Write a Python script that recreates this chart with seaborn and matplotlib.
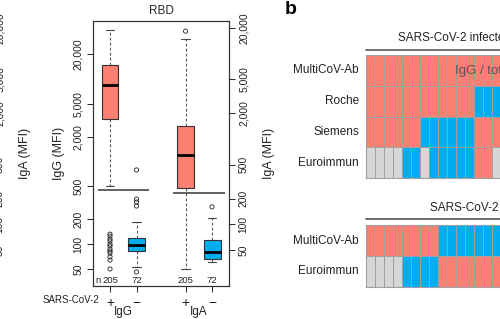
import numpy as np
import pandas as pd
import matplotlib
matplotlib.use("Agg")
import matplotlib.pyplot as plt
import matplotlib.transforms as mtransforms
import seaborn as sns
from matplotlib.colors import ListedColormap
from matplotlib.ticker import FixedLocator, FixedFormatter, NullLocator
from matplotlib.lines import Line2D

# ---------------- data ----------------
positions = [1.0, 2.0, 3.85, 4.85]
status = ["+", "\u2212", "+", "\u2212"]
counts = [205, 72, 205, 72]
group_names = ["IgG", "IgA"]

# five-number summaries: lower whisker, Q1, median, Q3, upper whisker
igg_pos_stats = [505, 3270, 8430, 14700, 39000]
igg_neg_stats = [53, 82, 98, 118, 185]
iga_pos_stats = [30, 266, 649, 1420, 14900]
iga_neg_stats = [36, 39, 47, 65, 119]

igg_pos_out = [132, 125, 115, 109, 100, 95, 87, 82, 78, 70, 64, 50]
igg_neg_out = [790, 351, 323, 289, 46]
iga_pos_out = [18400]
iga_neg_out = [160]

igg_cutoff = 451
iga_cutoff = 233

tick_values = [50, 100, 200, 500, 2000, 5000, 20000]
tick_labels = ["50", "100", "200", "500", "2,000", "5,000", "20,000"]

top_rows = ["MultiCoV-Ab", "Roche", "Siemens", "Euroimmun"]
top_multicov = [2, 2, 2, 2, 2, 2, 2, 2, 2, 2, 2, 2, 2, 2, 2]
top_roche = [2, 2, 2, 2, 2, 2, 2, 2, 2, 2, 2, 2, 1, 1, 1]
top_siemens = [2, 2, 2, 2, 2, 2, 1, 1, 1, 1, 1, 1, 2, 2, 2]
top_euroimmun = [0, 0, 0, 0, 1, 1, 0, 1, 1, 1, 1, 1, 2, 2, 0]

bot_rows = ["MultiCoV-Ab", "Euroimmun"]
bot_multicov = [2, 2, 2, 2, 2, 2, 2, 2, 1, 1, 1, 1, 1, 1, 1]
bot_euroimmun = [0, 0, 0, 0, 1, 1, 1, 1, 2, 2, 2, 2, 2, 2, 2]

RED = "#FA8072"
BLUE = "#00AEEF"
GRAY = "#D6D6D6"
GRID = "#A0A0A0"

# ---------------- style ----------------
sns.set_style("white")
plt.rcParams["font.family"] = ["Liberation Sans", "DejaVu Sans"]

W, H = 500, 319
fig = plt.figure(figsize=(5.0, 3.19), dpi=100)


def fx(px):
    return px / W


def fy(py):
    return 1 - py / H


TICK_FS = 7.4

# ---------------- boxplot panel ----------------
ax = fig.add_axes([fx(93), fy(286), fx(229) - fx(93), fy(21) - fy(286)])
ax2 = ax.twinx()

df_g = pd.DataFrame({
    "pos": np.repeat(positions[:2], 5),
    "val": igg_pos_stats + igg_neg_stats,
    "status": np.repeat(status[:2], 5),
})
df_a = pd.DataFrame({
    "pos": np.repeat(positions[2:], 5),
    "val": iga_pos_stats + iga_neg_stats,
    "status": np.repeat(status[2:], 5),
})
pal = {"+": RED, "\u2212": BLUE}
box_kw = dict(x="pos", y="val", hue="status", palette=pal, native_scale=True,
              dodge=False, whis=(0, 100), width=0.64, fliersize=0,
              linecolor="#333333", linewidth=0.8, log_scale=(False, True),
              legend=False, saturation=1,
              whiskerprops=dict(linestyle=(0, (2.5, 2)), color="#555555",
                                linewidth=0.8),
              capprops=dict(color="#444444"),
              medianprops=dict(color="black", linewidth=2.0))
sns.boxplot(data=df_g, ax=ax, **box_kw)
sns.boxplot(data=df_a, ax=ax2, **box_kw)

out_g = pd.DataFrame({
    "pos": [positions[0]] * len(igg_pos_out) + [positions[1]] * len(igg_neg_out),
    "val": igg_pos_out + igg_neg_out,
})
out_a = pd.DataFrame({
    "pos": [positions[2]] * len(iga_pos_out) + [positions[3]] * len(iga_neg_out),
    "val": iga_pos_out + iga_neg_out,
})
sc_kw = dict(x="pos", y="val", marker="o", s=9, facecolors="none",
             edgecolor="#222222", linewidth=0.6)
sns.scatterplot(data=out_g, ax=ax, **sc_kw)
sns.scatterplot(data=out_a, ax=ax2, **sc_kw)

ax.hlines(igg_cutoff, 0.55, 2.47, color="#555555", lw=1.3)
ax2.hlines(iga_cutoff, 3.38, 5.34, color="#555555", lw=1.3)

ax.set_yscale("log")
ax2.set_yscale("log")
ax.set_ylim(31.1, 50200)
ax2.set_ylim(18.9, 24200)
ax.set_xlim(0.358, 5.49)

for a in (ax, ax2):
    a.yaxis.set_major_locator(FixedLocator(tick_values))
    a.yaxis.set_major_formatter(FixedFormatter(tick_labels))
    a.yaxis.set_minor_locator(NullLocator())
    a.tick_params(axis="y", which="major", length=4, width=0.7, pad=3,
                  labelsize=TICK_FS, labelrotation=90, colors="#222222")
    for lab in a.get_yticklabels():
        lab.set_va("center")
    for sp in a.spines.values():
        sp.set_visible(True)
        sp.set_color("#333333")
        sp.set_linewidth(0.8)
    a.set_xlabel("")

ax.yaxis.tick_left()
ax2.yaxis.tick_right()
ax.set_ylabel("IgG (MFI)", fontsize=9, labelpad=6)
ax2.set_ylabel("IgA (MFI)", fontsize=9, labelpad=10)

ax.xaxis.set_major_locator(FixedLocator(positions))
ax.xaxis.set_major_formatter(FixedFormatter(status))
ax.tick_params(axis="x", length=4, width=0.7, pad=3, labelsize=10,
               bottom=True, colors="#222222")
ax2.tick_params(axis="x", bottom=False, labelbottom=False)

ax.set_title("RBD", fontsize=8.5, pad=5)

trans = mtransforms.blended_transform_factory(ax.transData, ax.transAxes)
for p, n in zip(positions, counts):
    ax.text(p, 0.022, str(n), transform=trans, ha="center", va="center",
            fontsize=6.8, color="#222222")
ax.text(0.55, 0.022, "n", transform=trans, ha="center", va="center",
        fontsize=6.8, color="#222222")
ax.text(0.044, -0.053, "SARS-CoV-2", transform=ax.transAxes, ha="right",
        va="center", fontsize=7, color="#222222")
for gi, g in enumerate(group_names):
    mid = (positions[2 * gi] + positions[2 * gi + 1]) / 2
    ax.text(mid, -0.1, g, transform=trans, ha="center", va="center",
            fontsize=8.5, color="#222222")

# ---------------- partial previous panel (cut off at left) ----------------
ax0 = fig.add_axes([fx(-15) - 0.1, fy(286), 0.1, fy(21) - fy(286)])
ax0.set_yscale("log")
ax0.set_ylim(18.9, 24200)
ax0.yaxis.tick_right()
ax0.yaxis.set_label_position("right")
ax0.yaxis.set_major_locator(FixedLocator(tick_values))
ax0.yaxis.set_major_formatter(FixedFormatter(tick_labels))
ax0.yaxis.set_minor_locator(NullLocator())
ax0.tick_params(axis="y", length=4, width=0.7, pad=3, labelsize=TICK_FS,
                labelrotation=90, colors="#222222")
for lab in ax0.get_yticklabels():
    lab.set_va("center")
ax0.set_ylabel("IgA (MFI)", fontsize=9, labelpad=10)
ax0.set_xticks([])
for sp in ax0.spines.values():
    sp.set_visible(False)
ax0.patch.set_alpha(0)

# ---------------- heatmaps ----------------
cmap = ListedColormap([GRAY, BLUE, RED])
top_df = pd.DataFrame([top_multicov, top_roche, top_siemens, top_euroimmun],
                      index=top_rows)
bot_df = pd.DataFrame([bot_multicov, bot_euroimmun], index=bot_rows)

axh1 = fig.add_axes([fx(366), fy(178), fx(501) - fx(366), fy(55) - fy(178)])
axh2 = fig.add_axes([fx(366), fy(287), fx(501) - fx(366), fy(225) - fy(287)])
for axh, dfh in ((axh1, top_df), (axh2, bot_df)):
    sns.heatmap(dfh, ax=axh, cmap=cmap, vmin=-0.5, vmax=2.5, cbar=False,
                linewidths=0.5, linecolor=GRID, xticklabels=False,
                yticklabels=True)
    axh.tick_params(axis="y", length=0, pad=5, labelsize=8.5,
                    labelrotation=0, colors="#222222")
    axh.tick_params(axis="x", length=0)
    axh.set_ylabel("")
    for sp in axh.spines.values():
        sp.set_visible(True)
        sp.set_color(GRID)
        sp.set_linewidth(0.8)

fig.add_artist(Line2D([fx(366), fx(505)], [fy(50), fy(50)], color="#555555",
                      lw=1.2))
fig.add_artist(Line2D([fx(366), fx(505)], [fy(219), fy(219)], color="#555555",
                      lw=1.2))
fig.text(fx(398), fy(38), "SARS-CoV-2 infected", ha="left", va="center",
         fontsize=8.5, color="#222222")
fig.text(fx(430), fy(208), "SARS-CoV-2 negative", ha="left", va="center",
         fontsize=8.5, color="#222222")
fig.text(fx(455), fy(71), "IgG / total Ab", ha="left", va="center",
         fontsize=9.5, color="#555555")
fig.text(fx(285), fy(10), "b", ha="left", va="center", fontsize=14,
         fontweight="bold", color="black")

fig.savefig("out.png", dpi=100)
